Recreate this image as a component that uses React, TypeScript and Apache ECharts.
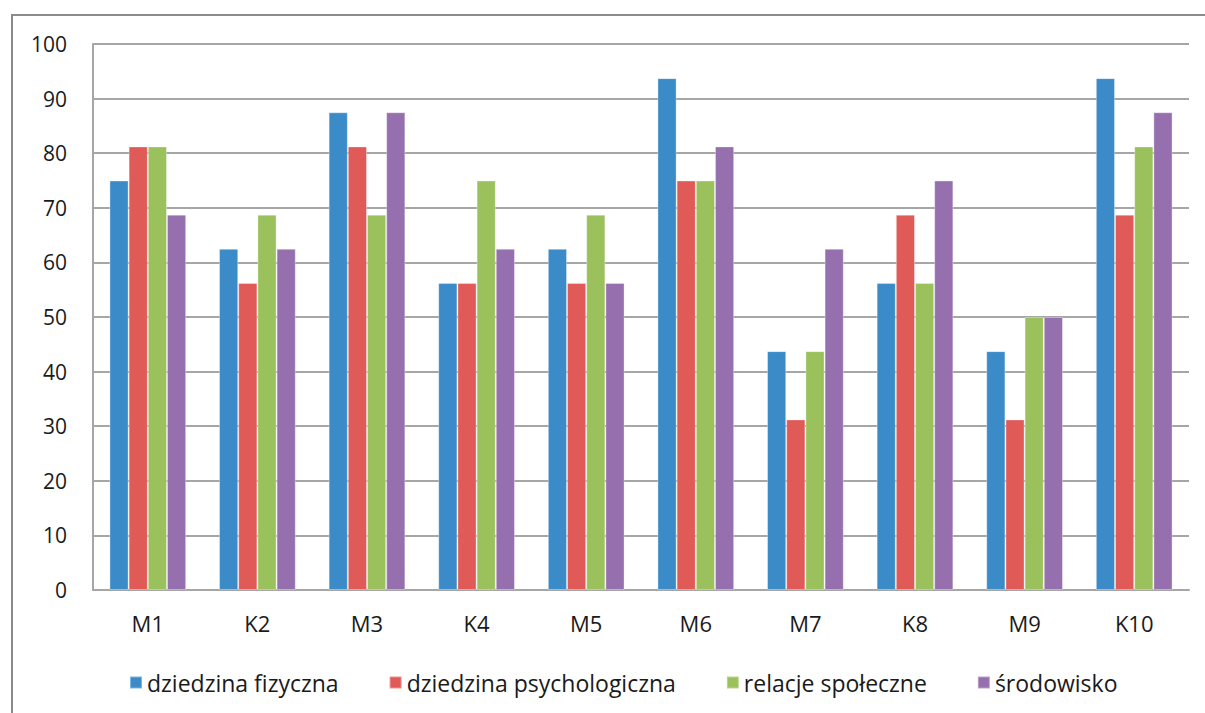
import React, { useEffect, useRef } from "react";
import * as echarts from "echarts";

// Respondents (M = man, K = woman)
const categories = ["M1", "K2", "M3", "K4", "M5", "M6", "M7", "K8", "M9", "K10"];

// WHOQOL domain scores (0–100)
const fizyczna = [75, 62.5, 87.5, 56.25, 62.5, 93.75, 43.75, 56.25, 43.75, 93.75];
const psychologiczna = [81.25, 56.25, 81.25, 56.25, 56.25, 75, 31.25, 68.75, 31.25, 68.75];
const spoleczne = [81.25, 68.75, 68.75, 75, 68.75, 75, 43.75, 56.25, 50, 81.25];
const srodowisko = [68.75, 62.5, 87.5, 62.5, 56.25, 81.25, 62.5, 75, 50, 87.5];

const seriesNames = [
  "dziedzina fizyczna",
  "dziedzina psychologiczna",
  "relacje społeczne",
  "środowisko",
];
const seriesData = [fizyczna, psychologiczna, spoleczne, srodowisko];
const colors = ["#3a8bc8", "#e05a57", "#9ac15c", "#966fae"];

const FONT = "'Open Sans', 'Noto Sans', sans-serif";

export default function App() {
  const ref = useRef<HTMLDivElement>(null);

  useEffect(() => {
    if (!ref.current) return;
    const chart = echarts.init(ref.current, undefined, { renderer: "svg" });
    chart.setOption({
      animation: false,
      backgroundColor: "#ffffff",
      color: colors,
      textStyle: { fontFamily: FONT, color: "#1a1a1a" },
      graphic: [
        {
          type: "rect",
          shape: { x: 12, y: 15, width: 1260, height: 800 },
          style: { fill: "none", stroke: "#8c8c8c", lineWidth: 2 },
          silent: true,
        },
      ],
      grid: { left: 93, right: 16, top: 44, bottom: 123, containLabel: false },
      legend: {
        data: seriesNames,
        left: 124,
        top: 666,
        itemWidth: 12,
        itemHeight: 12,
        itemGap: 50,
        icon: "rect",
        textStyle: { fontFamily: FONT, fontSize: 23, color: "#1a1a1a" },
      },
      xAxis: {
        type: "category",
        data: categories,
        axisLine: { show: true, lineStyle: { color: "#a6a6a6", width: 2 } },
        axisTick: { show: false },
        axisLabel: { fontFamily: FONT, fontSize: 22, color: "#1a1a1a", margin: 22 },
      },
      yAxis: {
        type: "value",
        min: 0,
        max: 100,
        interval: 10,
        axisLine: { show: true, lineStyle: { color: "#a6a6a6", width: 2 } },
        axisTick: { show: false },
        splitLine: { show: true, lineStyle: { color: "#a6a6a6", width: 2 } },
        axisLabel: { fontFamily: FONT, fontSize: 21, color: "#1a1a1a", margin: 26 },
      },
      series: seriesNames.map((name, i) => ({
        name,
        type: "bar",
        data: seriesData[i],
        barGap: "0%",
        barCategoryGap: "30%",
        itemStyle: { color: colors[i], borderColor: "rgba(255,255,255,0.35)", borderWidth: 1 },
      })),
    });
    return () => chart.dispose();
  }, []);

  return (
    <div
      ref={ref}
      style={{ position: "fixed", left: 0, top: 0, width: 1205, height: 713 }}
    />
  );
}
